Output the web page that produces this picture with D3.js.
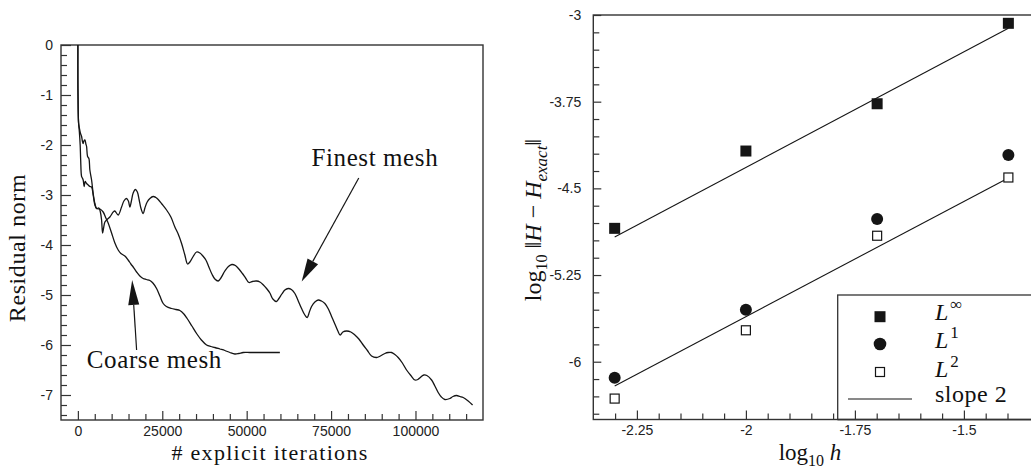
<!DOCTYPE html>
<html><head><meta charset="utf-8">
<script src="https://cdn.jsdelivr.net/npm/d3@7"></script>
<style>
html,body{margin:0;padding:0;background:#fff;}
svg{display:block;}
.tick text{font-family:"Liberation Sans",Arial,sans-serif;font-size:14px;fill:#222;}
.tick line{stroke:#333;stroke-width:1.2;}
.serif{font-family:"Liberation Serif","Times New Roman",serif;fill:#111;}
</style></head><body>
<svg id="c" width="1031" height="470"></svg>
<script>
// ---------- Left panel data: residual norm vs explicit iterations ----------
const finestMesh = [[0,0],[0,-0.70],[90,-1.30],[210,-1.56],[440,-1.66],[740,-1.76],[1100,-1.83],[1330,-1.92],[1570,-1.97],[1780,-1.92],[2070,-1.90],[2370,-1.98],[2580,-2.03],[2870,-2.23],[3260,-2.27],[3550,-2.50],[4060,-2.70],[4530,-2.97],[5040,-3.17],[5540,-3.27],[6220,-3.26],[6660,-3.34],[7020,-3.50],[7320,-3.76],[7610,-3.66],[8000,-3.54],[8500,-3.50],[9480,-3.44],[10460,-3.34],[10960,-3.32],[11940,-3.40],[12940,-3.24],[13630,-3.12],[14370,-3.07],[14960,-3.12],[15400,-3.24],[15850,-3.12],[16380,-2.96],[17030,-2.89],[17620,-2.94],[18160,-3.10],[18660,-3.26],[19340,-3.37],[19850,-3.26],[20530,-3.14],[21330,-3.07],[22300,-3.03],[23100,-3.05],[23790,-3.09],[24880,-3.18],[26270,-3.30],[27550,-3.44],[28730,-3.64],[29710,-3.78],[30720,-3.97],[31690,-4.20],[32490,-4.38],[33170,-4.34],[34150,-4.23],[35160,-4.14],[36140,-4.16],[37030,-4.22],[37910,-4.30],[38800,-4.44],[39690,-4.58],[40580,-4.68],[41560,-4.72],[42360,-4.66],[43540,-4.52],[44580,-4.43],[45610,-4.39],[46650,-4.41],[47690,-4.48],[48730,-4.57],[49760,-4.67],[50650,-4.75],[51690,-4.73],[52930,-4.72],[53910,-4.74],[54950,-4.80],[55890,-4.87],[56870,-4.96],[57760,-5.08],[58800,-5.13],[59540,-5.07],[60420,-4.98],[61310,-4.90],[62290,-4.87],[63240,-4.89],[64280,-4.97],[65160,-5.10],[66260,-5.27],[67240,-5.40],[67920,-5.45],[68570,-5.34],[69220,-5.23],[70200,-5.14],[71180,-5.10],[72130,-5.12],[73160,-5.17],[74200,-5.28],[75150,-5.43],[76120,-5.58],[77010,-5.72],[77700,-5.80],[78490,-5.74],[79590,-5.72],[80860,-5.74],[82050,-5.80],[83230,-5.88],[84510,-6.00],[85750,-6.11],[86990,-6.22],[88480,-6.25],[89600,-6.22],[90930,-6.17],[91910,-6.15],[92920,-6.15],[93900,-6.19],[94870,-6.25],[96120,-6.36],[97360,-6.50],[98630,-6.61],[99820,-6.70],[100700,-6.69],[101600,-6.64],[102490,-6.60],[103370,-6.61],[104770,-6.70],[105740,-6.82],[106720,-6.95],[107670,-7.04],[108710,-7.09],[110190,-7.07],[111080,-7.03],[112170,-7.01],[113150,-7.03],[114130,-7.05],[115610,-7.12],[116910,-7.20]];
const coarseMesh = [[0,0],[0,-0.70],[90,-1.30],[210,-1.56],[440,-1.74],[680,-2.00],[830,-2.30],[1100,-2.63],[1330,-2.66],[1570,-2.70],[1870,-2.83],[2160,-2.73],[2580,-2.77],[3050,-2.80],[3550,-2.83],[4060,-2.84],[4530,-3.00],[5040,-3.20],[5540,-3.27],[6520,-3.28],[7490,-3.34],[8290,-3.46],[8970,-3.56],[9980,-3.76],[10960,-3.96],[11940,-4.10],[12740,-4.17],[13920,-4.22],[14900,-4.30],[15700,-4.38],[16380,-4.44],[17390,-4.54],[18360,-4.62],[19340,-4.67],[20290,-4.69],[21330,-4.71],[22220,-4.76],[23310,-4.87],[24290,-5.02],[25270,-5.17],[26210,-5.23],[27750,-5.27],[29030,-5.29],[30210,-5.31],[31400,-5.38],[32370,-5.47],[33770,-5.62],[35160,-5.77],[36580,-5.90],[38120,-6.00],[39390,-6.03],[40580,-6.05],[42060,-6.08],[43540,-6.11],[45020,-6.15],[46500,-6.18],[47690,-6.17],[48960,-6.15],[50950,-6.15],[53910,-6.15],[56870,-6.15],[59830,-6.15]];
const leftXTicks = [0, 25000, 50000, 75000, 100000];
const leftYTicks = [0, -1, -2, -3, -4, -5, -6, -7];
// annotations [iterations, residual]
const finestArrow = [[83200, -2.66], [66300, -4.73]];
const coarseArrow = [[17390, -6.10], [16080, -4.70]];
const finestLabel = [87970, -2.42];
const coarseLabel = [22660, -6.46];

// ---------- Right panel data: error norms vs log10 h ----------
const logH = [-2.301, -2.0, -1.699, -1.398];
const errLinf = [-4.846, -4.177, -3.768, -3.072];
const errL1 = [-6.139, -5.551, -4.765, -4.211];
const errL2 = [-6.319, -5.728, -4.910, -4.406];
const slopeX = [-2.301, -1.398];
const slopeUpper = [-4.92, -3.115];
const slopeLower = [-6.21, -4.41];
const rightXTicks = [-2.25, -2, -1.75, -1.5];
const rightYTicks = [-3, -3.75, -4.5, -5.25, -6];

const svg = d3.select("#c");
const ink = "#151515";

// ================= LEFT PANEL =================
const xL = d3.scaleLinear().domain([-5000, 120000]).range([61, 483]);
const yL = d3.scaleLinear().domain([-7.5, 0]).range([420, 45]);

const minorXL = d3.range(5000, 120000, 5000).filter(v => v % 25000 !== 0);
const minorYL = d3.range(-7.4, 0.01, 0.2).map(v => +v.toFixed(1)).filter(v => !Number.isInteger(v));

function stripDomain(g){ g.select(".domain").remove(); }

svg.append("g").attr("transform","translate(0,420)")
  .call(d3.axisBottom(xL).tickValues(minorXL).tickSize(-6).tickFormat("")).call(stripDomain);
svg.append("g").attr("transform","translate(0,420)")
  .call(d3.axisBottom(xL).tickValues(leftXTicks).tickSize(-9).tickPadding(6).tickFormat(d3.format("d"))).call(stripDomain);
svg.append("g").attr("transform","translate(61,0)")
  .call(d3.axisLeft(yL).tickValues(minorYL).tickSize(-6).tickFormat("")).call(stripDomain);
svg.append("g").attr("transform","translate(61,0)")
  .call(d3.axisLeft(yL).tickValues(leftYTicks).tickSize(-10).tickPadding(8).tickFormat(d => String(d))).call(stripDomain);

svg.append("rect").attr("x",61).attr("y",45).attr("width",422).attr("height",375)
  .attr("fill","none").attr("stroke","#333").attr("stroke-width",1.4);

const lineL = d3.line().x(d => xL(d[0])).y(d => yL(d[1])).curve(d3.curveCatmullRom.alpha(0.5));
svg.append("path").datum(coarseMesh).attr("d", lineL).attr("fill","none").attr("stroke",ink).attr("stroke-width",1.3);
svg.append("path").datum(finestMesh).attr("d", lineL).attr("fill","none").attr("stroke",ink).attr("stroke-width",1.3);

function arrow(pts, headLen, headHalf){
  const x1 = xL(pts[0][0]), y1 = yL(pts[0][1]), x2 = xL(pts[1][0]), y2 = yL(pts[1][1]);
  const dx = x2-x1, dy = y2-y1, L = Math.hypot(dx,dy), ux = dx/L, uy = dy/L;
  const bx = x2 - ux*headLen, by = y2 - uy*headLen;
  svg.append("line").attr("x1",x1).attr("y1",y1).attr("x2",bx).attr("y2",by)
    .attr("stroke",ink).attr("stroke-width",1.2);
  svg.append("polygon").attr("points",
    [[x2,y2],[bx - uy*headHalf, by + ux*headHalf],[bx + uy*headHalf, by - ux*headHalf]].map(p=>p.join(",")).join(" "))
    .attr("fill",ink);
}
arrow(finestArrow, 23, 6);
arrow(coarseArrow, 25, 5.5);

svg.append("text").attr("class","serif").attr("x", xL(finestLabel[0])).attr("y", yL(finestLabel[1]))
  .attr("text-anchor","middle").attr("font-size",25).attr("letter-spacing","0.6px").text("Finest mesh");
svg.append("text").attr("class","serif").attr("x", xL(coarseLabel[0])).attr("y", yL(coarseLabel[1]))
  .attr("text-anchor","middle").attr("font-size",25).attr("letter-spacing","0.6px").text("Coarse mesh");

svg.append("text").attr("class","serif").attr("x",270).attr("y",460)
  .attr("text-anchor","middle").attr("font-size",22).attr("letter-spacing","1.3px").text("# explicit iterations");
svg.append("text").attr("class","serif").attr("transform","translate(25,248) rotate(-90)")
  .attr("text-anchor","middle").attr("font-size",24).attr("letter-spacing","0.6px").text("Residual norm");

// ================= RIGHT PANEL =================
const xR = d3.scaleLinear().domain([-2.35, -1.335]).range([593.3, 593.3 + 1.015*436]);
const yR = d3.scaleLinear().domain([-6.5, -3]).range([419.5, 15]);

const minorXR = d3.range(-2.30, -1.38, 0.05).map(v => +v.toFixed(2)).filter(v => !rightXTicks.includes(v));
const minorYR = d3.range(-6.45, -3.0, 0.15).map(v => +v.toFixed(2)).filter(v => !rightYTicks.includes(v));

svg.append("g").attr("transform","translate(0,419.5)")
  .call(d3.axisBottom(xR).tickValues(minorXR).tickSize(-6).tickFormat("")).call(stripDomain);
svg.append("g").attr("transform","translate(0,419.5)")
  .call(d3.axisBottom(xR).tickValues(rightXTicks).tickSize(-9).tickPadding(6).tickFormat(d => String(d))).call(stripDomain);
svg.append("g").attr("transform","translate(593.3,0)")
  .call(d3.axisLeft(yR).tickValues(minorYR).tickSize(-6).tickFormat("")).call(stripDomain);
svg.append("g").attr("transform","translate(593.3,0)")
  .call(d3.axisLeft(yR).tickValues(rightYTicks).tickSize(-8).tickPadding(12).tickFormat(d => String(d))).call(stripDomain);

svg.append("rect").attr("x",593.3).attr("y",15).attr("width",460).attr("height",404.5)
  .attr("fill","none").attr("stroke","#333").attr("stroke-width",1.4);

// slope-2 reference lines
[slopeUpper, slopeLower].forEach(s => {
  svg.append("line").attr("x1",xR(slopeX[0])).attr("y1",yR(s[0])).attr("x2",xR(slopeX[1])).attr("y2",yR(s[1]))
    .attr("stroke",ink).attr("stroke-width",1.1);
});

const gM = svg.append("g");
logH.forEach((h,i) => {
  gM.append("rect").attr("x",xR(h)-5.5).attr("y",yR(errLinf[i])-5.5).attr("width",11).attr("height",11).attr("fill",ink);
  gM.append("circle").attr("cx",xR(h)).attr("cy",yR(errL1[i])).attr("r",6).attr("fill",ink);
  gM.append("rect").attr("x",xR(h)-4.5).attr("y",yR(errL2[i])-4.5).attr("width",9).attr("height",9)
    .attr("fill","#fff").attr("stroke",ink).attr("stroke-width",1.2);
});

// legend
svg.append("rect").attr("x",837.7).attr("y",295).attr("width",220).attr("height",124.5)
  .attr("fill","#fff").attr("stroke","#333").attr("stroke-width",1.3);
// redraw bottom ticks covered by legend
svg.append("g").attr("transform","translate(0,419.5)")
  .call(d3.axisBottom(xR).tickValues(minorXR.filter(v => xR(v) > 838)).tickSize(-6).tickFormat("")).call(stripDomain);
svg.append("g").attr("transform","translate(0,419.5)")
  .call(d3.axisBottom(xR).tickValues(rightXTicks.filter(v => xR(v) > 838)).tickSize(-9).tickFormat("")).call(stripDomain);
svg.append("line").attr("x1",837.7).attr("x2",1031).attr("y1",419.5).attr("y2",419.5).attr("stroke","#333").attr("stroke-width",1.4);

const legX = 880, txtX = 935;
svg.append("rect").attr("x",legX-5.5).attr("y",316.7-5.5).attr("width",11).attr("height",11).attr("fill",ink);
svg.append("circle").attr("cx",legX).attr("cy",344).attr("r",6.3).attr("fill",ink);
svg.append("rect").attr("x",legX-4.5).attr("y",372-4.5).attr("width",9).attr("height",9)
  .attr("fill","#fff").attr("stroke",ink).attr("stroke-width",1.2);
svg.append("line").attr("x1",848).attr("x2",912).attr("y1",399).attr("y2",399).attr("stroke",ink).attr("stroke-width",1.1);

const legendLabels = [["∞",320],["1",348.3],["2",376.7]];
legendLabels.forEach(([sup,y]) => {
  const t = svg.append("text").attr("class","serif").attr("x",txtX).attr("y",y).attr("font-size",24);
  t.append("tspan").attr("font-style","italic").text("L");
  t.append("tspan").attr("dx",2).attr("dy",-10).attr("font-size",17).text(sup);
});
svg.append("text").attr("class","serif").attr("x",txtX).attr("y",401.7).attr("font-size",24).attr("letter-spacing","0.5px").text("slope 2");

// axis titles
const xt = svg.append("text").attr("class","serif").attr("x",810).attr("y",460).attr("text-anchor","middle").attr("font-size",23);
xt.append("tspan").text("log");
xt.append("tspan").attr("dy",6).attr("font-size",16).text("10");
xt.append("tspan").attr("dy",-6).text(" ");
xt.append("tspan").attr("font-style","italic").text("h");

const yt = svg.append("text").attr("class","serif").attr("transform","translate(541,220) rotate(-90)")
  .attr("text-anchor","middle").attr("font-size",24);
yt.append("tspan").text("log");
yt.append("tspan").attr("dy",6).attr("font-size",16).text("10");
yt.append("tspan").attr("dy",-6).text(" \u2016");
yt.append("tspan").attr("font-style","italic").text("H");
yt.append("tspan").text(" \u2212 ");
yt.append("tspan").attr("font-style","italic").text("H");
yt.append("tspan").attr("dy",6).attr("font-size",17).attr("font-style","italic").text("exact");
yt.append("tspan").attr("dy",-6).text("\u2016");
</script>
</body></html>
